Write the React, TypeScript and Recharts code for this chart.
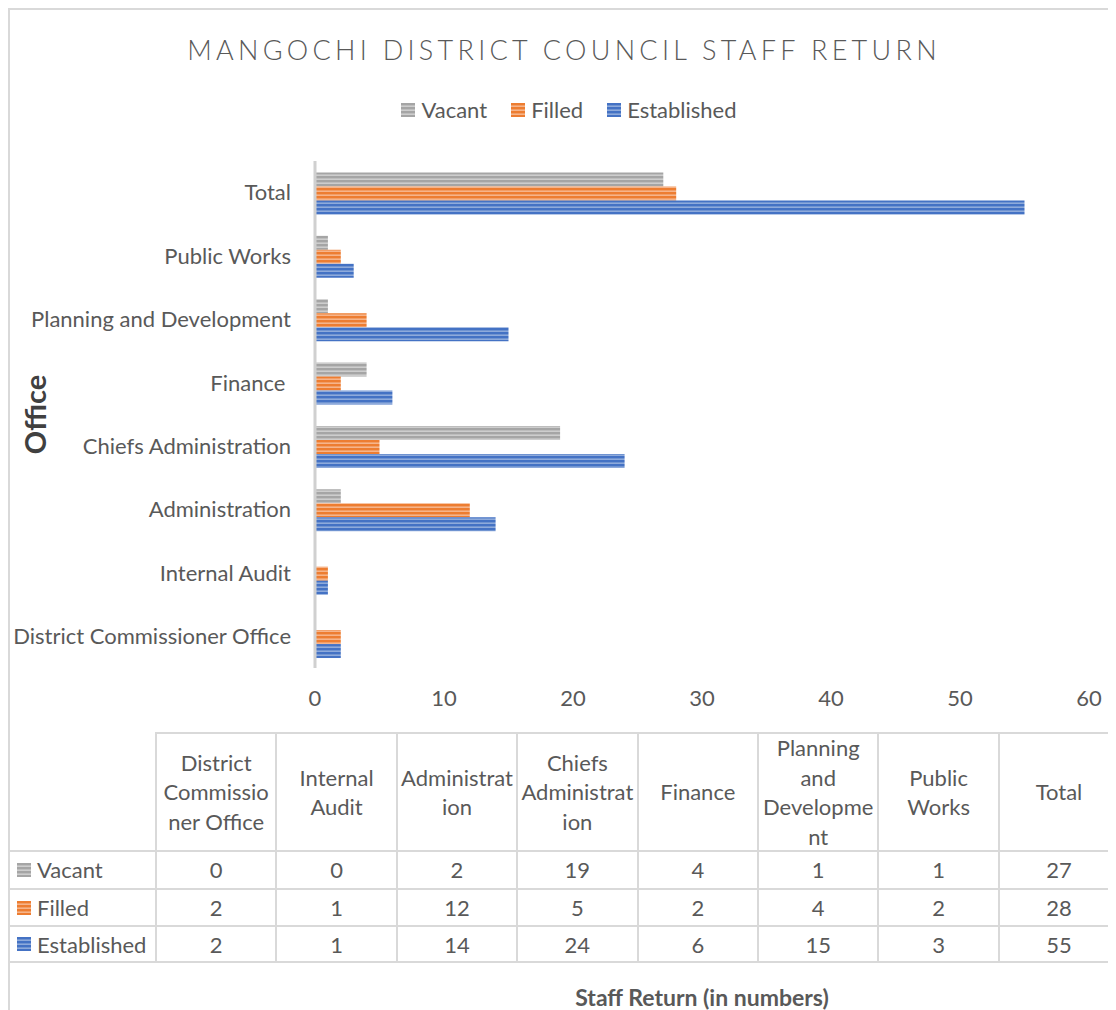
import { Bar, BarChart, Legend, XAxis, YAxis } from "recharts"

const offices = [
  "District Commissioner Office",
  "Internal Audit",
  "Administration",
  "Chiefs Administration",
  "Finance ",
  "Planning and Development",
  "Public Works",
  "Total"
]
const vacant = [0, 0, 2, 19, 4, 1, 1, 27]
const filled = [2, 1, 12, 5, 2, 4, 2, 28]
const established = [2, 1, 14, 24, 6, 15, 3, 55]
const xTicks = [0, 10, 20, 30, 40, 50, 60]

const series = [
  { key: "vacant", name: "Vacant", values: vacant, dark: "#a5a5a5", light: "#cdcdcd" },
  { key: "filled", name: "Filled", values: filled, dark: "#ed7d31", light: "#f6b48a" },
  { key: "established", name: "Established", values: established, dark: "#4472c4", light: "#8eaadb" }
]

const data = offices.map((office, i) => ({
  office,
  vacant: vacant[i],
  filled: filled[i],
  established: established[i]
}))

const FONT = "Lato, 'Noto Sans', sans-serif"
const TEXT = "#595959"
const LINE = "#d9d9d9"
const FS = 22

// table geometry (wrapper coords, wrapper sits at the body margin)
const COL0 = 145
const COLW = 120.4
const HEAD_H = 118
const ROW_H = 37.7

function Swatch({ id }: { id: string }) {
  return (
    <svg width={14} height={14} style={{ display: "block" }}>
      <rect width={14} height={14} fill={`url(#stripe-${id})`} />
    </svg>
  )
}

function renderLegend() {
  return (
    <div style={{ display: "flex", justifyContent: "center", gap: 24, fontFamily: FONT, fontSize: FS, color: TEXT }}>
      {series.map((s) => (
        <div key={s.key} style={{ display: "flex", alignItems: "center", gap: 6 }}>
          <Swatch id={s.key} />
          <span>{s.name}</span>
        </div>
      ))}
    </div>
  )
}

function DataTable() {
  const cells: any[] = []
  const top = 724
  offices.forEach((office, c) => {
    cells.push(
      <div
        key={`h${c}`}
        style={{
          position: "absolute",
          left: 2 + COL0 + c * COLW,
          top,
          width: COLW,
          height: HEAD_H,
          boxSizing: "border-box",
          borderTop: `2px solid ${LINE}`,
          borderLeft: `2px solid ${LINE}`,
          display: "flex",
          alignItems: "center",
          justifyContent: "center",
          textAlign: "center",
          padding: "0 3px",
          lineHeight: "29.5px",
          overflowWrap: "anywhere"
        }}
      >
        {office}
      </div>
    )
  })
  series.forEach((s, r) => {
    const y = top + HEAD_H + r * ROW_H
    const last = r === series.length - 1
    cells.push(
      <div
        key={`r${r}`}
        style={{
          position: "absolute",
          left: 2,
          top: y,
          width: COL0,
          height: ROW_H,
          boxSizing: "border-box",
          borderTop: `2px solid ${LINE}`,
          borderBottom: last ? `2px solid ${LINE}` : "none",
          display: "flex",
          alignItems: "center",
          gap: 6,
          paddingLeft: 7
        }}
      >
        <Swatch id={s.key} />
        <span>{s.name}</span>
      </div>
    )
    s.values.forEach((v, c) => {
      cells.push(
        <div
          key={`c${r}-${c}`}
          style={{
            position: "absolute",
            left: 2 + COL0 + c * COLW,
            top: y,
            width: COLW,
            height: ROW_H,
            boxSizing: "border-box",
            borderTop: `2px solid ${LINE}`,
            borderLeft: `2px solid ${LINE}`,
            borderBottom: last ? `2px solid ${LINE}` : "none",
            display: "flex",
            alignItems: "center",
            justifyContent: "center"
          }}
        >
          {v}
        </div>
      )
    })
  })
  return <div style={{ fontFamily: FONT, fontSize: FS, color: TEXT }}>{cells}</div>
}

export default function App() {
  return (
    <div style={{ position: "relative", width: 1108, height: 1002, overflow: "hidden", background: "#fff" }}>
      <div
        style={{
          position: "absolute",
          left: 0,
          top: 0,
          width: 1140,
          height: 1040,
          border: `2px solid ${LINE}`,
          boxSizing: "border-box"
        }}
      />
      <div
        style={{
          position: "absolute",
          left: 2,
          top: 25,
          width: 1108,
          textAlign: "center",
          fontFamily: FONT,
          fontSize: 27,
          fontWeight: 300,
          letterSpacing: 4.3,
          color: TEXT
        }}
      >
        MANGOCHI DISTRICT COUNCIL STAFF RETURN
      </div>
      <div style={{ position: "absolute", left: 0, top: 0 }}>
        <BarChart
          width={1108}
          height={720}
          data={data}
          layout="vertical"
          margin={{ top: 153, right: 27, bottom: 20, left: 0 }}
          barCategoryGap="18%"
          barGap={0}
        >
          <defs>
            {series.map((s) => (
              <pattern key={s.key} id={`stripe-${s.key}`} width={4} height={4} patternUnits="userSpaceOnUse">
                <rect width={4} height={4} fill={s.light} />
                <rect width={4} height={2.4} fill={s.dark} />
              </pattern>
            ))}
          </defs>
          <XAxis
            type="number"
            domain={[0, 60]}
            ticks={xTicks}
            interval={0}
            axisLine={false}
            tickLine={false}
            tickSize={0}
            tickMargin={22}
            height={40}
            tick={{ fill: TEXT, fontSize: FS, fontFamily: FONT }}
          />
          <YAxis
            type="category"
            dataKey="office"
            reversed
            width={307}
            interval={0}
            tickLine={false}
            tickSize={0}
            tickMargin={24}
            axisLine={{ stroke: "#d0d0d0", strokeWidth: 3 }}
            tick={{ fill: TEXT, fontSize: FS, fontFamily: FONT, style: { whiteSpace: "pre" } }}
            label={{
              value: "Office",
              angle: -90,
              position: "center",
              dx: -126,
              fill: "#404040",
              fontSize: 29,
              fontWeight: 700,
              fontFamily: FONT
            }}
          />
          <Legend
            layout="horizontal"
            verticalAlign="middle"
            align="center"
            wrapperStyle={{ top: 88, left: 7, width: 1108 }}
            content={renderLegend}
          />
          {series.map((s) => (
            <Bar
              key={s.key}
              dataKey={s.key}
              name={s.name}
              fill={`url(#stripe-${s.key})`}
              isAnimationActive={false}
            />
          ))}
        </BarChart>
      </div>
      <DataTable />
      <div
        style={{
          position: "absolute",
          left: 307,
          top: 978,
          width: 774,
          textAlign: "center",
          fontFamily: FONT,
          fontSize: 23,
          lineHeight: "23px",
          fontWeight: 700,
          color: TEXT
        }}
      >
        Staff Return (in numbers)
      </div>
    </div>
  )
}
